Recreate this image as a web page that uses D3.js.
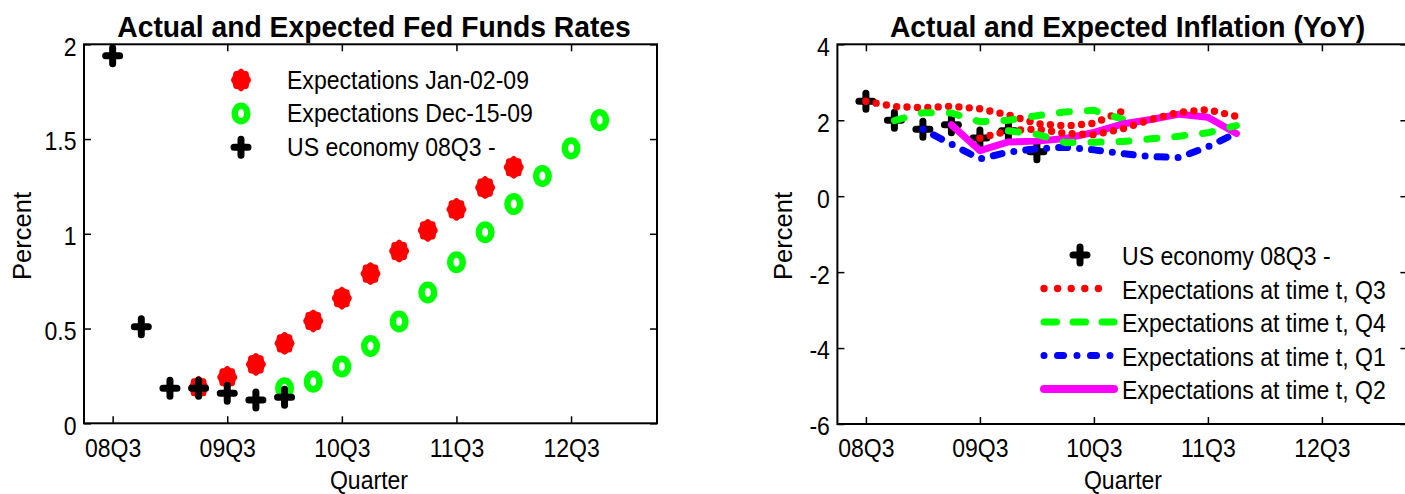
<!DOCTYPE html>
<html>
<head>
<meta charset="utf-8">
<script src="https://cdn.jsdelivr.net/npm/d3@7"></script>
<style>
  html, body { margin: 0; padding: 0; background: #fff; }
  svg { display: block; font-family: "Liberation Sans", Arial, Helvetica, sans-serif; }
</style>
</head>
<body>
<svg id="chart" width="1405" height="494"></svg>
<script>
// ---- categories: quarters shown on both horizontal axes ----
const quarters = ["08Q2","08Q3","08Q4","09Q1","09Q2","09Q3","09Q4","10Q1","10Q2","10Q3",
                  "10Q4","11Q1","11Q2","11Q3","11Q4","12Q1","12Q2","12Q3","12Q4","13Q1","13Q2"];
const xTickLabels = ["08Q3","09Q3","10Q3","11Q3","12Q3"];

// ---- Fed funds rate (percent) ----
const fedTicks = [0, 0.5, 1, 1.5, 2];
const usFedStart = "08Q3";
const usFedFunds = [1.94, 0.51, 0.185, 0.185, 0.158, 0.123, 0.137];
const fedJanStart = "09Q2";
const fedExpJan09 = [0.19, 0.243, 0.311, 0.422, 0.54, 0.66, 0.79, 0.909, 1.018, 1.129, 1.244, 1.351];
const fedDecStart = "10Q1";
const fedExpDec09 = [0.185, 0.22, 0.30, 0.408, 0.537, 0.69, 0.85, 1.008, 1.157, 1.305, 1.451, 1.60];
const fedLegend = ["Expectations Jan-02-09", "Expectations Dec-15-09", "US economy 08Q3 -"];

// ---- inflation, year over year (percent) ----
const inflTicks = [-6, -4, -2, 0, 2, 4];
const usInflStart = "08Q3";
const usInflation = [2.50, 2.00, 1.76, 1.88, 1.53, 1.72, 1.17];
// expectation paths, one per forecast origin
const expQ3From08Start = "08Q3";
const expQ3From08 = [2.50, 2.36, 2.33, 2.37, 2.30, 2.14, 1.91, 1.85, 1.92, 2.24];
const expQ4From08Start = "08Q4";
const expQ4From08 = [1.99, 2.20, 2.19, 1.96, 2.00, 2.12, 2.22, 2.26, 2.03];
const expQ1From09Start = "09Q1";
const expQ1From09 = [1.76, 1.37, 0.98, 1.16, 1.25, 1.29, 1.22, 1.12, 1.04, 1.02, 1.30, 1.66];
const expQ2From09Start = "09Q2";
const expQ2From09 = [1.88, 1.20, 1.43, 1.45, 1.52, 1.68, 1.90, 2.02, 2.16, 2.08, 1.65];
const expQ3From09Start = "09Q3";
const expQ3From09 = [1.53, 1.72, 1.77, 1.65, 1.62, 1.77, 2.02, 2.21, 2.28, 2.10];
const expQ4From09Start = "09Q4";
const expQ4From09 = [1.72, 1.63, 1.41, 1.42, 1.44, 1.51, 1.58, 1.67, 1.86];
const inflLegend = ["US economy 08Q3 -", "Expectations at time t, Q3", "Expectations at time t, Q4",
                    "Expectations at time t, Q1", "Expectations at time t, Q2"];

// ---- helpers ----
const svg = d3.select("#chart");
const FS = 25.6;      // body text size
const SX = 0.9;       // horizontal squeeze of the text

function pts(start, values) {
  const s = quarters.indexOf(start);
  return values.map((v, i) => [s + i, v]);
}

function txt(parent, x, y, s, o = {}) {
  const sx = o.sx === undefined ? SX : o.sx;
  return parent.append("text")
    .attr("transform", `translate(${x},${y})${o.rotate ? ` rotate(${o.rotate})` : ""} scale(${sx},1)`)
    .attr("text-anchor", o.anchor || "start")
    .attr("font-size", o.size || FS)
    .attr("font-weight", o.weight || "normal")
    .attr("fill", "#000")
    .text(s);
}

function cross(parent, cx, cy) {
  parent.append("path")
    .attr("d", `M${cx - 7},${cy}H${cx + 7}M${cx},${cy - 8}V${cy + 8}`)
    .attr("stroke", "#000").attr("stroke-width", 7)
    .attr("stroke-linecap", "round").attr("fill", "none");
}

// filled marker with a slightly scalloped rim
const blobPath = d3.lineRadial()
  .angle(t => t)
  .radius(t => 1 + 0.06 * Math.cos(8 * t))
  .curve(d3.curveCardinalClosed)(d3.range(0, 2 * Math.PI, Math.PI / 24));
function blob(parent, cx, cy) {
  parent.append("path").attr("d", blobPath)
    .attr("transform", `translate(${cx},${cy}) scale(9.4,10.8)`)
    .attr("fill", "#ff0000");
}

function panel(o) {
  const g = svg.append("g");
  const x = d3.scaleLinear().domain([0, quarters.length - 1]).range([o.x0, o.x1]);
  const y = d3.scaleLinear().domain(o.yDomain).range([o.y1, o.y0]);
  const xt = xTickLabels.map(q => quarters.indexOf(q));

  const clean = sel => sel.attr("font-size", null).attr("font-family", null)
    .call(s => s.select(".domain").remove())
    .call(s => s.selectAll(".tick line").attr("stroke", "#000").attr("stroke-width", 1.5));

  const gb = g.append("g").attr("transform", `translate(0,${o.y1})`)
    .call(d3.axisBottom(x).tickValues(xt).tickFormat(i => quarters[i]).tickSizeInner(-7).tickSizeOuter(0))
    .call(clean);
  gb.selectAll(".tick text").attr("y", null).attr("dy", null)
    .attr("transform", `translate(0,33.2) scale(${SX},1)`)
    .attr("font-size", FS).attr("fill", "#000");

  g.append("g").attr("transform", `translate(0,${o.y0})`)
    .call(d3.axisTop(x).tickValues(xt).tickFormat(() => "").tickSizeInner(-7).tickSizeOuter(0))
    .call(clean);

  const gl = g.append("g").attr("transform", `translate(${o.x0},0)`)
    .call(d3.axisLeft(y).tickValues(o.yTicks).tickFormat(d => String(d)).tickSizeInner(-7).tickSizeOuter(0))
    .call(clean);
  gl.selectAll(".tick text").attr("x", null).attr("dy", null)
    .attr("transform", `translate(-7.5,10.9) scale(${SX},1)`)
    .attr("text-anchor", "end").attr("font-size", FS).attr("fill", "#000");

  g.append("g").attr("transform", `translate(${o.x1},0)`)
    .call(d3.axisRight(y).tickValues(o.yTicks).tickFormat(() => "").tickSizeInner(-7).tickSizeOuter(0))
    .call(clean);

  g.append("rect").attr("x", o.x0).attr("y", o.y0)
    .attr("width", o.x1 - o.x0).attr("height", o.y1 - o.y0)
    .attr("fill", "none").attr("stroke", "#000").attr("stroke-width", 2);

  txt(g, o.titleX, 36.5, o.title, { anchor: "middle", weight: "bold", size: 29, sx: 0.975 });
  txt(g, o.xLabelX, 489, "Quarter", { anchor: "middle" });
  txt(g, o.yLabelX, 236, "Percent", { anchor: "middle", rotate: -90, sx: 1 });

  return { g, x, y };
}

// ---- left panel: Fed funds ----
{
  const { g, x, y } = panel({
    x0: 84, x1: 657, y0: 44.3, y1: 423.3, yDomain: [0, 2], yTicks: fedTicks,
    title: "Actual and Expected Fed Funds Rates", titleX: 374, xLabelX: 369, yLabelX: 31
  });

  const red = g.append("g");
  pts(fedJanStart, fedExpJan09).forEach(([i, v]) => blob(red, x(i), y(v)));

  const green = g.append("g");
  pts(fedDecStart, fedExpDec09).forEach(([i, v]) =>
    green.append("ellipse").attr("cx", x(i)).attr("cy", y(v)).attr("rx", 6.3).attr("ry", 7.8)
      .attr("fill", "none").attr("stroke", "#00ff00").attr("stroke-width", 6.5));

  const blk = g.append("g");
  pts(usFedStart, usFedFunds).forEach(([i, v]) => cross(blk, x(i), y(v)));

  // legend
  const lg = g.append("g");
  blob(lg, 241, 80);
  lg.append("ellipse").attr("cx", 241).attr("cy", 113.5).attr("rx", 6.3).attr("ry", 7.8)
    .attr("fill", "none").attr("stroke", "#00ff00").attr("stroke-width", 6.5);
  cross(lg, 241, 147.3);
  fedLegend.forEach((s, k) => txt(lg, 287, 88.5 + k * 33.6, s));
}

// ---- right panel: inflation ----
{
  const { g, x, y } = panel({
    x0: 837.4, x1: 1407.4, y0: 44.3, y1: 424, yDomain: [-6, 4], yTicks: inflTicks,
    title: "Actual and Expected Inflation (YoY)", titleX: 1127.5, xLabelX: 1123, yLabelX: 792
  });

  const blk = g.append("g");
  pts(usInflStart, usInflation).forEach(([i, v]) => cross(blk, x(i), y(v)));

  const line = d3.line().x(d => x(d[0])).y(d => y(d[1]));
  const styles = {
    q3: { stroke: "#ff0000", dash: "0 10.4", width: 7.4 },
    q4: { stroke: "#00ff00", dash: "10 18", width: 7 },
    q1: { stroke: "#0000ff", dash: "0 12 9 12", width: 7 },
    q2: { stroke: "#ff00ff", dash: null, width: 7 }
  };
  const paths = [
    ["q3", pts(expQ3From08Start, expQ3From08)],
    ["q4", pts(expQ4From08Start, expQ4From08)],
    ["q1", pts(expQ1From09Start, expQ1From09)],
    ["q2", pts(expQ2From09Start, expQ2From09)],
    ["q3", pts(expQ3From09Start, expQ3From09)],
    ["q4", pts(expQ4From09Start, expQ4From09)]
  ];
  paths.forEach(([k, d]) => {
    const s = styles[k];
    g.append("path").attr("d", line(d))
      .attr("fill", "none").attr("stroke", s.stroke).attr("stroke-width", s.width)
      .attr("stroke-linecap", "round").attr("stroke-linejoin", "round")
      .attr("stroke-dasharray", s.dash);
  });

  // legend
  const lg = g.append("g");
  const rowY = k => 255 + k * 33.5;
  cross(lg, 1080, rowY(0));
  const legStyles = [
    { stroke: "#ff0000", dash: "0 13.6", width: 7.4 },
    { stroke: "#00ff00", dash: "12.5 16.5", width: 7 },
    { stroke: "#0000ff", dash: "0 13.5 6 13.5", width: 7 },
    { stroke: "#ff00ff", dash: null, width: 8 }
  ];
  legStyles.forEach((s, k) => {
    lg.append("path").attr("d", `M1044,${rowY(k + 1)}H${k === 0 ? 1112 : 1114}`)
      .attr("fill", "none").attr("stroke", s.stroke).attr("stroke-width", s.width)
      .attr("stroke-linecap", "round").attr("stroke-dasharray", s.dash);
  });
  inflLegend.forEach((s, k) => txt(lg, 1122, rowY(k) + 10, s));
}
</script>
</body>
</html>
